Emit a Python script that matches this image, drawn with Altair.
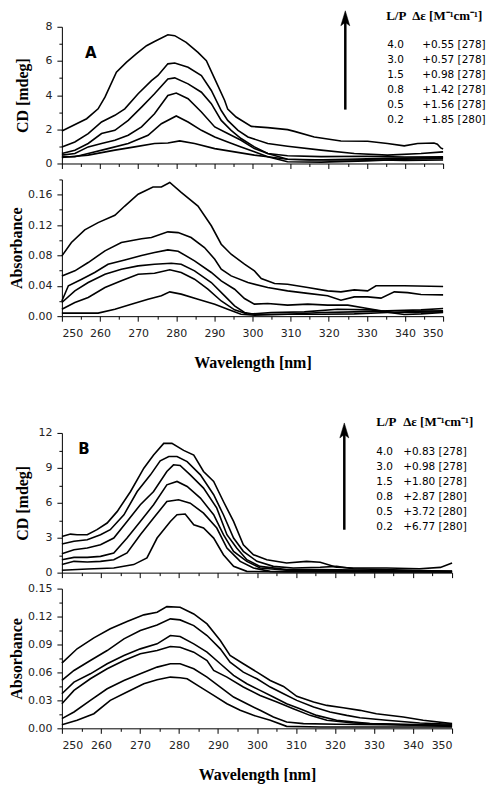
import altair as alt
import pandas as pd

# ---------------- data ----------------
A_CD_WL = [
    [250, 256.5, 259.5, 261.3, 264.3, 266.9, 269.5, 272.2, 274.3, 277.8, 279.6, 282.6, 285.7, 287.9, 290.1, 292.7, 293.5, 295.7, 299.7, 304.0, 309.2, 311.0, 316.2, 323.2, 330.2, 335.4, 339.8, 343.3, 347.6, 348.5, 349.4, 350],
    [250, 253.4, 256.9, 260.4, 263.9, 266.5, 270.0, 273.5, 275.2, 277.8, 279.6, 283.1, 286.6, 289.2, 291.8, 293.5, 296.2, 298.8, 304.0, 309.2, 318.0, 326.7, 335.4, 344.2, 350],
    [250, 253.4, 256.9, 260.4, 263.9, 267.4, 270.9, 274.3, 277.8, 279.6, 283.1, 286.6, 289.2, 291.8, 294.4, 297.0, 300.5, 304.0, 309.2, 318.0, 330, 340, 350],
    [250, 253.4, 256.9, 260.4, 263.9, 267.4, 270.9, 274.3, 277.8, 280.0, 283.1, 286.6, 290.1, 293.5, 297.0, 300.5, 304.0, 309.2, 315, 325, 335, 345, 350],
    [250, 253.4, 256.9, 262.1, 267.4, 272.6, 276.1, 280.0, 283.1, 286.6, 290.1, 293.5, 297.0, 300.5, 304.0, 309.2, 318.0, 330, 340, 350],
    [250, 256.9, 263.9, 269.1, 274.3, 277.8, 280.9, 284.8, 290.1, 295.3, 300.5, 304.0, 309.2, 320, 330, 340, 350],
]
A_CD_Y = [
    [1.90, 2.62, 3.20, 3.88, 5.34, 5.92, 6.41, 6.89, 7.14, 7.53, 7.48, 7.09, 6.50, 6.02, 4.95, 3.69, 3.18, 2.72, 2.17, 2.10, 1.98, 1.88, 1.55, 1.32, 1.30, 1.17, 1.03, 1.17, 1.20, 1.13, 0.91, 0.85],
    [0.97, 1.26, 1.75, 2.43, 2.82, 3.2, 4.08, 4.85, 5.15, 5.83, 5.88, 5.63, 5.15, 4.27, 3.1, 2.52, 1.94, 1.55, 1.17, 1.01, 0.78, 0.58, 0.49, 0.58, 0.68],
    [0.58, 0.78, 1.17, 1.75, 1.94, 2.52, 3.30, 4.08, 4.95, 5.01, 4.66, 4.17, 3.5, 2.52, 1.94, 1.46, 0.97, 0.58, 0.45, 0.4, 0.42, 0.38, 0.39],
    [0.49, 0.58, 0.97, 1.17, 1.36, 1.65, 2.14, 2.91, 3.98, 4.12, 3.79, 3.01, 2.14, 1.75, 1.36, 0.87, 0.58, 0.25, 0.2, 0.25, 0.3, 0.33, 0.35],
    [0.39, 0.39, 0.58, 0.87, 1.17, 1.65, 2.33, 2.78, 2.43, 1.94, 1.55, 1.26, 0.97, 0.68, 0.39, 0.1, 0.08, 0.15, 0.25, 0.29],
    [0.35, 0.49, 0.78, 0.97, 1.17, 1.2, 1.32, 1.17, 0.87, 0.68, 0.49, 0.39, 0.25, 0.2, 0.22, 0.18, 0.2],
]

A_AB_WL = [
    [250, 252.5, 256.0, 259.5, 263.9, 266.5, 270.0, 273.9, 276.1, 278.3, 281.3, 285.7, 289.2, 291.8, 294.4, 297.9, 300.5, 302.3, 305.8, 309.2, 314.5, 319.7, 323.2, 326.7, 330.2, 332.4, 339.8, 350],
    [250, 253.4, 256.9, 261.3, 265.6, 270.9, 273.5, 277.8, 280.5, 283.9, 287.4, 290.1, 291.8, 294.4, 298.8, 304.0, 309.2, 314.5, 319.7, 323.2, 326.7, 330.2, 333.7, 337.2, 340.7, 344.2, 350],
    [250, 251.7, 255.2, 258.6, 262.1, 266.5, 270.9, 274.3, 277.8, 280.5, 284.8, 289.2, 291.8, 295.3, 297.9, 300.5, 304.0, 309.2, 314.5, 319.7, 325.0, 330.2, 333.7, 337.2, 340.7, 344.2, 350],
    [250, 253.4, 256.9, 261.3, 265.6, 270.0, 274.3, 278.7, 281.3, 284.8, 289.2, 292.7, 295.3, 297.9, 300.5, 309.2, 318.0, 326.7, 335.4, 344.2, 350],
    [250, 253.4, 256.9, 261.3, 265.6, 270.0, 274.3, 278.3, 281.3, 284.8, 288.3, 291.8, 295.3, 298.8, 304.9, 313.6, 322.3, 331.1, 339.8, 344.2, 350],
    [250, 259.5, 263.9, 268.2, 272.6, 276.1, 278.3, 281.3, 285.7, 290.1, 293.5, 297.0, 300.5, 309.2, 318.0, 326.7, 335.4, 350],
]
A_AB_Y = [
    [0.0794, 0.097, 0.1136, 0.1232, 0.1329, 0.145, 0.1605, 0.170, 0.170, 0.176, 0.163, 0.145, 0.119, 0.0947, 0.0816, 0.0684, 0.0596, 0.0496, 0.043, 0.042, 0.0377, 0.0333, 0.032, 0.0346, 0.0333, 0.040, 0.040, 0.039],
    [0.053, 0.0597, 0.0706, 0.086, 0.097, 0.102, 0.1035, 0.111, 0.110, 0.1035, 0.0904, 0.075, 0.0618, 0.053, 0.0443, 0.0377, 0.0333, 0.030, 0.0268, 0.021, 0.0254, 0.0254, 0.0237, 0.032, 0.031, 0.0285, 0.028],
    [0.020, 0.040, 0.0487, 0.0575, 0.0684, 0.074, 0.080, 0.0838, 0.0873, 0.0855, 0.0728, 0.0575, 0.0465, 0.0355, 0.0232, 0.0158, 0.0167, 0.0145, 0.0158, 0.0145, 0.0145, 0.010, 0.007, 0.0048, 0.0057, 0.0066, 0.007],
    [0.018, 0.0333, 0.0443, 0.0553, 0.0618, 0.0662, 0.0684, 0.0697, 0.0684, 0.0596, 0.0443, 0.0268, 0.0136, 0.0048, 0.0026, 0.0026, 0.0048, 0.0057, 0.007, 0.0083, 0.010],
    [0.0092, 0.018, 0.0246, 0.0377, 0.0465, 0.0553, 0.0566, 0.061, 0.0575, 0.0487, 0.0355, 0.020, 0.0083, 0.0026, 0.0048, 0.0057, 0.0092, 0.0083, 0.0022, 0.003, 0.0048],
    [0.004, 0.004, 0.0092, 0.0158, 0.0224, 0.0268, 0.032, 0.029, 0.0224, 0.0158, 0.0092, 0.0026, 0.0013, 0.0026, 0.0026, 0.003, 0.0048, 0.0057],
]

B_CD_WL = [
    [250, 252.2, 253.9, 256.5, 259.0, 261.6, 264.2, 267.6, 271.0, 273.5, 276.1, 278.2, 281.2, 283.8, 286.3, 288.9, 291.4, 294.0, 296.5, 299.1, 302.5, 307.6, 312.7, 316.2, 320.4, 324.7, 333.2, 341.7, 347, 350],
    [250, 253.1, 256.5, 259.9, 262.4, 265.9, 269.3, 272.7, 275.2, 277.4, 279.5, 282.1, 285.5, 288.9, 291.4, 294.0, 296.5, 300.0, 304.2, 309.3, 316.2, 320.4, 324.7, 350],
    [250, 253.1, 256.5, 259.9, 263.3, 266.7, 270.1, 273.5, 276.9, 278.6, 280.3, 282.9, 286.3, 289.7, 292.3, 294.8, 297.4, 300.8, 307.6, 316.2, 350],
    [250, 253.1, 256.5, 259.9, 263.3, 266.7, 270.1, 273.5, 276.9, 279.5, 282.1, 285.5, 288.9, 291.4, 294.0, 297.4, 300.8, 307.6, 350],
    [250, 253.1, 256.5, 259.9, 263.3, 266.7, 270.1, 273.5, 276.9, 279.9, 282.9, 286.3, 289.7, 292.3, 295.7, 299.1, 303.4, 350],
    [250, 256.5, 263.3, 268.4, 271.8, 274.4, 277.8, 279.5, 281.6, 283.8, 286.3, 288.9, 291.4, 294.0, 297.4, 307.6, 350],
]
B_CD_Y = [
    [3.11, 3.31, 3.26, 3.26, 3.69, 4.26, 5.26, 6.97, 8.97, 10.1, 11.1, 11.1, 10.5, 10.1, 8.69, 7.83, 6.11, 4.4, 2.4, 1.54, 1.11, 0.83, 0.97, 0.89, 0.46, 0.4, 0.4, 0.34, 0.45, 0.83],
    [2.46, 2.69, 2.83, 3.26, 3.69, 4.97, 6.97, 8.4, 9.6, 9.97, 9.97, 9.54, 8.4, 6.69, 4.97, 2.97, 1.83, 0.97, 0.54, 0.4, 0.46, 0.54, 0.34, 0.11],
    [1.63, 1.97, 2.11, 2.4, 2.97, 4.4, 5.83, 6.97, 8.69, 9.26, 9.2, 8.4, 7.26, 5.54, 3.26, 2.11, 1.11, 0.54, 0.26, 0.26, 0.11],
    [1.11, 1.31, 1.31, 1.4, 1.69, 2.97, 4.4, 5.83, 7.54, 7.83, 7.4, 6.4, 4.97, 3.26, 1.83, 0.97, 0.4, 0.2, 0.11],
    [0.69, 0.97, 0.91, 0.97, 1.11, 1.69, 3.26, 4.69, 6.11, 6.26, 5.97, 5.11, 3.83, 2.11, 0.97, 0.4, 0.11, 0.06],
    [0.2, 0.31, 0.4, 0.69, 1.26, 2.97, 4.4, 4.97, 5.03, 4.11, 3.83, 2.97, 1.54, 0.54, 0.11, 0.06, 0.06],
]

B_AB_WL = [
    [250, 253.9, 258.2, 262.4, 266.7, 271.0, 274.4, 276.9, 280.3, 283.8, 287.2, 290.6, 293.1, 296.5, 300.0, 303.4, 306.8, 310.2, 314.5, 317.9, 322.1, 326.4, 330.6, 337.5, 342.6, 350],
    [250, 253.1, 257.3, 261.6, 265.9, 270.1, 274.4, 277.8, 280.3, 283.8, 287.2, 290.6, 293.1, 296.5, 300.0, 303.4, 306.8, 310.2, 314.5, 318.7, 323.0, 326.4, 333.2, 341.7, 350],
    [250, 253.1, 257.3, 261.6, 265.9, 270.1, 274.4, 277.8, 280.3, 283.8, 287.2, 290.6, 294.0, 297.4, 300.8, 304.2, 307.6, 311.0, 315.3, 320.4, 328.9, 350],
    [250, 253.1, 257.3, 261.6, 265.9, 270.1, 274.4, 277.8, 280.3, 283.8, 287.2, 288.9, 292.3, 296.5, 300.8, 305.1, 309.3, 313.6, 317.9, 324.7, 333.2, 350],
    [250, 253.1, 257.3, 261.6, 265.9, 270.1, 274.4, 277.8, 280.3, 283.8, 287.2, 290.6, 294.0, 297.4, 300.8, 304.2, 307.6, 311.9, 320.4, 350],
    [250, 253.9, 258.2, 262.4, 266.7, 271.0, 274.4, 277.8, 280.3, 282.1, 285.5, 288.9, 292.3, 295.7, 299.1, 303.4, 307.6, 316.2, 350],
]
B_AB_Y = [
    [0.070, 0.0854, 0.0971, 0.1068, 0.1146, 0.1218, 0.1246, 0.1307, 0.130, 0.1228, 0.1121, 0.0943, 0.0782, 0.0693, 0.0603, 0.0514, 0.045, 0.0343, 0.0282, 0.0246, 0.0221, 0.0193, 0.0157, 0.0121, 0.0086, 0.005],
    [0.0514, 0.0621, 0.0728, 0.0835, 0.096, 0.105, 0.111, 0.1175, 0.1164, 0.1103, 0.0996, 0.0853, 0.071, 0.0603, 0.0532, 0.0443, 0.0371, 0.030, 0.0228, 0.0175, 0.0139, 0.0114, 0.0086, 0.0057, 0.0043],
    [0.0371, 0.0496, 0.0585, 0.0693, 0.0782, 0.0853, 0.0907, 0.0996, 0.0985, 0.0907, 0.0818, 0.0693, 0.0568, 0.0478, 0.0407, 0.0336, 0.0264, 0.0211, 0.0139, 0.0086, 0.005, 0.0032],
    [0.0264, 0.0407, 0.0532, 0.0639, 0.0728, 0.08, 0.0835, 0.0878, 0.0871, 0.0818, 0.0728, 0.0621, 0.055, 0.0443, 0.0353, 0.0282, 0.0211, 0.0139, 0.0086, 0.0057, 0.0043, 0.002],
    [0.0104, 0.0175, 0.030, 0.0425, 0.0514, 0.0585, 0.0657, 0.0693, 0.0693, 0.0639, 0.055, 0.0443, 0.0336, 0.0264, 0.0193, 0.0121, 0.0068, 0.005, 0.0043, 0.0032],
    [0.0039, 0.0086, 0.0157, 0.030, 0.0389, 0.0478, 0.0521, 0.055, 0.0543, 0.0532, 0.0443, 0.0353, 0.0264, 0.0193, 0.0139, 0.0086, 0.0021, 0.0014, 0.0014],
]

LP = ["4.0", "3.0", "1.5", "0.8", "0.5", "0.2"]
DE_A = ["+0.55 [278]", "+0.57 [278]", "+0.98 [278]", "+1.42 [278]", "+1.56 [278]", "+1.85 [280]"]
DE_B = ["+0.83 [278]", "+0.98 [278]", "+1.80 [278]", "+2.87 [280]", "+3.72 [280]", "+6.77 [280]"]
HDR_LP = "L/P"
HDR_DE = "Δε [M⁻¹cm⁻¹]"

X_TICKS = list(range(250, 351, 5))
Y_TICKS_A_CD = list(range(0, 9))
Y_TICKS_A_AB = [round(0.02 * i, 2) for i in range(10)]
Y_TICKS_B_CD = [1.5 * i for i in range(9)]
Y_TICKS_B_AB = [round(0.015 * i, 3) for i in range(11)]

SERIF = "Liberation Serif"
SANS = "DejaVu Sans"


def curves(wls, ys):
    rows = []
    for k, (w, y) in enumerate(zip(wls, ys)):
        for a, b in zip(w, y):
            rows.append({"nm": a, "v": b, "curve": k})
    return pd.DataFrame(rows)


def tick_size(test):
    return {"condition": {"test": test, "value": 5}, "value": 3}


def x_axis(show):
    kw = dict(values=X_TICKS, tickSize=tick_size("datum.value % 10 == 0"),
              tickColor="black", domainColor="black", grid=False)
    if show:
        kw.update(labelExpr="datum.value % 10 == 0 ? datum.label : ''",
                  labelPadding=6, titlePadding=16, title="Wavelength [nm]",
                  labelFont=SANS, labelFontSize=11, labelColor="#222",
                  titleFont=SERIF, titleFontSize=16, titleFontWeight="bold",
                  titleColor="black")
    else:
        kw.update(labels=False, title=None)
    return alt.Axis(**kw)


def y_axis(title, values, test, fmt, tpad):
    kw = dict(values=values, tickSize=tick_size(test), tickColor="black",
              domainColor="black", grid=False, title=title,
              labelExpr=f"({test}) ? datum.label : ''", labelPadding=5,
              labelFont=SANS, labelFontSize=11, labelColor="#222",
              titleFont=SERIF, titleFontSize=16, titleFontWeight="bold",
              titleColor="black", titlePadding=tpad)
    if fmt:
        kw["format"] = fmt
    return alt.Axis(**kw)


def line_panel(df, ydom, yaxis, show_x, w, h):
    return alt.Chart(df).mark_line(color="black", strokeWidth=1.6).encode(
        x=alt.X("nm:Q", scale=alt.Scale(domain=[250, 350], nice=False, zero=False), axis=x_axis(show_x)),
        y=alt.Y("v:Q", scale=alt.Scale(domain=ydom, nice=False, zero=False), axis=yaxis),
        detail="curve:N",
    ).properties(width=w, height=h)


ONE = pd.DataFrame({"k": [0]})


def annotations(letter, lx, ly, ax, atip, abot, hx_lp, hx_de, hy, rx_lp, rx_de, ry, de_list):
    base = alt.Chart(ONE)
    let = base.mark_text(text=letter, font=SANS, fontWeight="bold", fontSize=15,
                         color="black", align="center", baseline="middle").encode(
        x=alt.value(lx), y=alt.value(ly))
    shaft = base.mark_rule(color="black", strokeWidth=2.5).encode(
        x=alt.value(ax), y=alt.value(atip + 8), y2=alt.value(abot))
    head = base.mark_point(shape="M0,-1L0.6,1L0,0.55L-0.6,1Z", size=225, filled=True,
                           fill="black", stroke="black", strokeWidth=0.5, opacity=1).encode(
        x=alt.value(ax), y=alt.value(atip + 7.5))
    h1 = base.mark_text(text=HDR_LP, font=SERIF, fontWeight="bold", fontSize=13,
                        color="black", align="left", baseline="middle").encode(
        x=alt.value(hx_lp), y=alt.value(hy))
    h2 = base.mark_text(text=HDR_DE, font=SERIF, fontWeight="bold", fontSize=13,
                        color="black", align="left", baseline="middle").encode(
        x=alt.value(hx_de), y=alt.value(hy))
    c1 = base.mark_text(text=LP, font=SANS, fontSize=10.5, lineHeight=15,
                        color="black", align="left", baseline="middle").encode(
        x=alt.value(rx_lp), y=alt.value(ry))
    c2 = base.mark_text(text=de_list, font=SANS, fontSize=10.5, lineHeight=15,
                        color="black", align="left", baseline="middle").encode(
        x=alt.value(rx_de), y=alt.value(ry))
    return [let, shaft, head, h1, h2, c1, c2]


WA, HA = 382, 137
WB, HB = 391, 140

a_cd = alt.layer(
    line_panel(curves(A_CD_WL, A_CD_Y), [0, 8],
               y_axis("CD [mdeg]", Y_TICKS_A_CD, "datum.value % 2 == 0", None, 14), False, WA, HA),
    *annotations("A", 29, 26, 284, -16, 83, 325, 351, -11, 326, 361, 18, DE_A),
).properties(width=WA, height=HA)

a_ab = line_panel(curves(A_AB_WL, A_AB_Y), [0, 0.18],
                  y_axis("Absorbance", Y_TICKS_A_AB, "round(datum.value * 100) % 4 == 0", ".2f", 3),
                  True, WA, HA)

spacer = alt.Chart(ONE).mark_point(opacity=0).encode(
    x=alt.value(0), y=alt.value(0)).properties(width=WA, height=85)

b_cd = alt.layer(
    line_panel(curves(B_CD_WL, B_CD_Y), [0, 12],
               y_axis("CD [mdeg]", Y_TICKS_B_CD, "datum.value % 3 == 0", None, 7), False, WB, HB),
    *annotations("B", 22, 16, 283, -10, 97, 315, 342, -11, 315, 342, 19, DE_B),
).properties(width=WB, height=HB)

b_ab = line_panel(curves(B_AB_WL, B_AB_Y), [0, 0.15],
                  y_axis("Absorbance", Y_TICKS_B_AB, "round(datum.value * 1000) % 30 == 0", ".2f", 3),
                  True, WB, HB)

chart = alt.vconcat(a_cd, a_ab, spacer, b_cd, b_ab, spacing=16, bounds="flush").properties(
    padding={"left": 0, "top": 1, "right": 4, "bottom": 4}
).configure_view(stroke=None)

chart.save("out.html", embed_options={"renderer": "svg", "actions": False})
